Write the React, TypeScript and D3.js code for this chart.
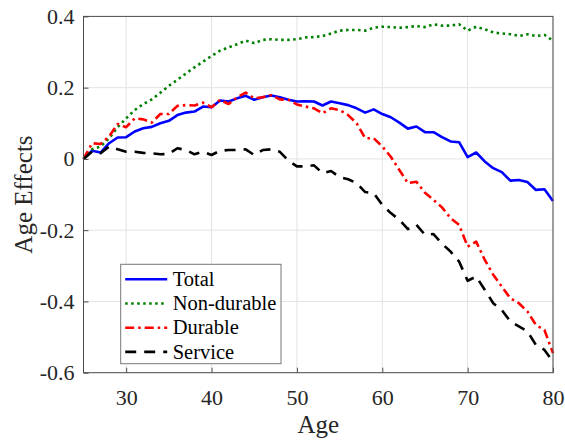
import * as d3 from "d3";
import * as React from "react";

// ages 25..80, one value per year
const ages = d3.range(25, 81);

const total = [
  0, 0.023, 0.018, 0.044, 0.06, 0.061, 0.077, 0.086, 0.09, 0.1,
  0.107, 0.123, 0.13, 0.133, 0.147, 0.145, 0.164, 0.161, 0.17, 0.177,
  0.166, 0.173, 0.178, 0.173, 0.166, 0.161, 0.162, 0.161, 0.15, 0.161,
  0.156, 0.151, 0.142, 0.13, 0.139, 0.126, 0.117, 0.102, 0.085, 0.091,
  0.075, 0.075, 0.061, 0.049, 0.047, 0.005, 0.018, -0.007, -0.026, -0.037,
  -0.061, -0.059, -0.065, -0.087, -0.085, -0.118
];

const nonDurable = [
  0, 0.027, 0.035, 0.058, 0.089, 0.114, 0.137, 0.154, 0.167, 0.186,
  0.205, 0.222, 0.24, 0.257, 0.273, 0.289, 0.304, 0.313, 0.322, 0.332,
  0.325, 0.334, 0.336, 0.334, 0.334, 0.336, 0.341, 0.342, 0.345, 0.352,
  0.36, 0.362, 0.362, 0.36, 0.368, 0.371, 0.37, 0.368, 0.37, 0.373,
  0.37, 0.378, 0.374, 0.374, 0.378, 0.36, 0.371, 0.364, 0.355, 0.352,
  0.35, 0.345, 0.35, 0.345, 0.348, 0.332
];

const durable = [
  0, 0.044, 0.042, 0.063, 0.098, 0.089, 0.114, 0.111, 0.102, 0.126,
  0.126, 0.149, 0.151, 0.15, 0.158, 0.145, 0.166, 0.154, 0.173, 0.186,
  0.17, 0.173, 0.179, 0.167, 0.166, 0.153, 0.147, 0.142, 0.128, 0.142,
  0.137, 0.123, 0.1, 0.058, 0.058, 0.035, 0.006, -0.031, -0.068, -0.064,
  -0.095, -0.115, -0.136, -0.166, -0.185, -0.246, -0.232, -0.283, -0.325, -0.358,
  -0.391, -0.405, -0.428, -0.466, -0.48, -0.545
];

const service = [
  0, 0.02, 0.016, 0.035, 0.027, 0.02, 0.02, 0.017, 0.016, 0.013,
  0.014, 0.03, 0.025, 0.013, 0.02, 0.011, 0.023, 0.025, 0.025, 0.027,
  0.011, 0.025, 0.027, 0.02, -0.005, -0.021, -0.021, -0.018, -0.04, -0.034,
  -0.051, -0.057, -0.068, -0.093, -0.096, -0.129, -0.152, -0.171, -0.197, -0.185,
  -0.213, -0.211, -0.238, -0.26, -0.288, -0.342, -0.33, -0.367, -0.405, -0.424,
  -0.456, -0.47, -0.484, -0.522, -0.536, -0.569
];

const seriesNames = ["Total", "Non-durable", "Durable", "Service"];
const seriesValues = [total, nonDurable, durable, service];
const seriesColors = ["#0000ff", "#008000", "#ff0000", "#000000"];
const seriesDashes = ["none", "2.5,3.5", "9,4,2.5,4", "11,8"];

const xTicks = [30, 40, 50, 60, 70, 80];
const yTicks = [-0.6, -0.4, -0.2, 0, 0.2, 0.4];

class AgeChart extends React.Component {
  myRef = React.createRef<SVGSVGElement>();

  componentDidMount() {
    const width = 565;
    const height = 441;
    const margin = { top: 16.4, right: 12, bottom: 68.3, left: 83.5 };
    const font = "Liberation Serif, Times New Roman, serif";

    const svg = d3.select(this.myRef.current);
    svg.selectAll("*").remove();
    svg.attr("viewBox", [0, 0, width, height]);

    const x = d3.scaleLinear()
      .domain([25, 80])
      .range([margin.left, width - margin.right]);

    const y = d3.scaleLinear()
      .domain([-0.6, 0.4])
      .range([height - margin.bottom, margin.top]);

    svg.append("rect")
      .attr("width", width)
      .attr("height", height)
      .attr("fill", "#fff");

    // grid
    const grid = svg.append("g").attr("stroke", "#e3e3e3").attr("stroke-width", 1);
    grid.selectAll(".gx")
      .data(xTicks)
      .join("line")
      .attr("x1", d => x(d)).attr("x2", d => x(d))
      .attr("y1", y(-0.6)).attr("y2", y(0.4));
    grid.selectAll(".gy")
      .data(yTicks)
      .join("line")
      .attr("y1", d => y(d)).attr("y2", d => y(d))
      .attr("x1", x(25)).attr("x2", x(80));

    // lines
    const line = d3.line<number>()
      .x((d, i) => x(ages[i]))
      .y(d => y(d));

    svg.append("g")
      .selectAll("path")
      .data(seriesValues)
      .join("path")
      .attr("fill", "none")
      .attr("stroke", (d, i) => seriesColors[i])
      .attr("stroke-width", 2.6)
      .attr("stroke-dasharray", (d, i) => seriesDashes[i])
      .attr("stroke-linejoin", "round")
      .attr("d", d => line(d));

    // axes box (MATLAB style, inward ticks)
    const axisColor = "#4d4d4d";
    svg.append("rect")
      .attr("x", x(25)).attr("y", y(0.4))
      .attr("width", x(80) - x(25))
      .attr("height", y(-0.6) - y(0.4))
      .attr("fill", "none")
      .attr("stroke", axisColor)
      .attr("stroke-width", 1);

    const xAxis = (g: any) => g
      .attr("transform", `translate(0,${y(-0.6)})`)
      .call(d3.axisBottom(x).tickValues(xTicks).tickSize(-5).tickPadding(17).tickFormat(d3.format("d")))
      .call((g: any) => g.select(".domain").remove());

    const yAxis = (g: any) => g
      .attr("transform", `translate(${x(25)},0)`)
      .call(d3.axisLeft(y).tickValues(yTicks).tickSize(-5).tickPadding(9)
        .tickFormat((d: any) => d === 0 ? "0" : d3.format(".1f")(d).replace("−", "-")))
      .call((g: any) => g.select(".domain").remove());

    svg.append("g").call(xAxis);
    svg.append("g").call(yAxis);

    svg.selectAll(".tick line").attr("stroke", axisColor);
    svg.selectAll(".tick text")
      .attr("fill", "#262626")
      .style("font-family", font)
      .style("font-size", "22px");

    // axis labels
    svg.append("text")
      .attr("x", (x(25) + x(80)) / 2)
      .attr("y", 433)
      .attr("text-anchor", "middle")
      .style("font-family", font)
      .style("font-size", "25px")
      .attr("fill", "#262626")
      .text("Age");

    svg.append("text")
      .attr("transform", `translate(32,${(y(-0.6) + y(0.4)) / 2}) rotate(-90)`)
      .attr("text-anchor", "middle")
      .style("font-family", font)
      .style("font-size", "25px")
      .attr("fill", "#262626")
      .text("Age Effects");

    // legend
    const legend = svg.append("g").attr("transform", "translate(120.7,264.3)");
    legend.append("rect")
      .attr("width", 160.3)
      .attr("height", 99.4)
      .attr("fill", "#fff")
      .attr("stroke", "#777")
      .attr("stroke-width", 1);

    const item = legend.selectAll(".item")
      .data(seriesNames)
      .join("g")
      .attr("transform", (d, i) => `translate(0,${15 + i * 24.2})`);

    item.append("line")
      .attr("x1", 4.5).attr("x2", 46.5)
      .attr("stroke", (d, i) => seriesColors[i])
      .attr("stroke-width", 2.6)
      .attr("stroke-dasharray", (d, i) => seriesDashes[i]);

    item.append("text")
      .attr("x", 52)
      .attr("dy", "0.33em")
      .style("font-family", font)
      .style("font-size", "20.5px")
      .attr("fill", "#000")
      .text(d => d);
  }

  render() {
    return (
      <svg ref={this.myRef} width={565} height={441}
        style={{ position: "absolute", left: 0, top: 0, display: "block" }} />
    );
  }
}

export default function App() {
  return <AgeChart />;
}
